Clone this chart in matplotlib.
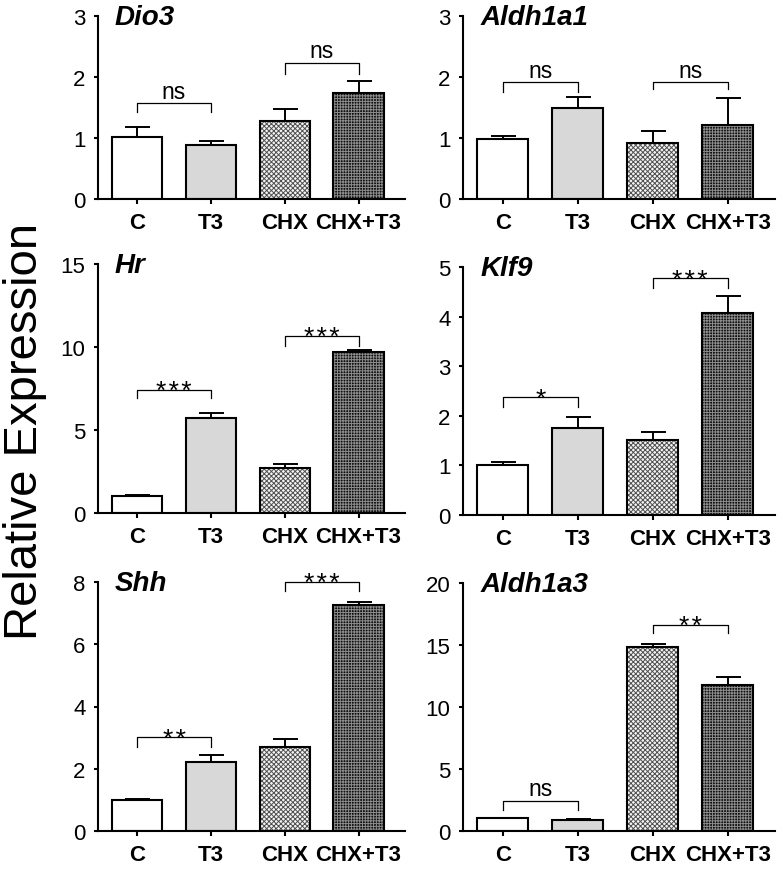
import numpy as np
import matplotlib as mpl
mpl.use('Agg')
import matplotlib.pyplot as plt

# ---- data ----
groups = ['C', 'T3', 'CHX', 'CHX+T3']

dio3_mean = [1.01, 0.89, 1.28, 1.74]
dio3_sem = [0.17, 0.055, 0.19, 0.19]
aldh1a1_mean = [0.99, 1.50, 0.91, 1.22]
aldh1a1_sem = [0.04, 0.18, 0.20, 0.44]
hr_mean = [1.04, 5.70, 2.73, 9.72]
hr_sem = [0.03, 0.34, 0.24, 0.07]
klf9_mean = [1.01, 1.75, 1.52, 4.07]
klf9_sem = [0.05, 0.23, 0.16, 0.34]
shh_mean = [1.01, 2.21, 2.69, 7.26]
shh_sem = [0.02, 0.22, 0.25, 0.10]
aldh1a3_mean = [1.05, 0.89, 14.8, 11.8]
aldh1a3_sem = [0.03, 0.06, 0.28, 0.64]

# significance brackets: (bar i, bar j, y of bracket, y of tick ends, label)
dio3_sig = [(0, 1, 1.57, 1.43, 'ns'), (2, 3, 2.23, 2.05, 'ns')]
aldh1a1_sig = [(0, 1, 1.91, 1.75, 'ns'), (2, 3, 1.91, 1.80, 'ns')]
hr_sig = [(0, 1, 7.41, 6.90, '***'), (2, 3, 10.68, 10.08, '***')]
klf9_sig = [(0, 1, 2.37, 2.17, '*'), (2, 3, 4.77, 4.57, '***')]
shh_sig = [(0, 1, 3.01, 2.69, '**'), (2, 3, 8.00, 7.71, '***')]
aldh1a3_sig = [(0, 1, 2.44, 1.69, 'ns'), (2, 3, 16.64, 15.97, '**')]

dio3_ticks = [0, 1, 2, 3]
aldh1a1_ticks = [0, 1, 2, 3]
hr_ticks = [0, 5, 10, 15]
klf9_ticks = [0, 1, 2, 3, 4, 5]
shh_ticks = [0, 2, 4, 6, 8]
aldh1a3_ticks = [0, 5, 10, 15, 20]

# ---- styling ----
plt.rcParams['font.family'] = ['Liberation Sans', 'DejaVu Sans']
plt.rcParams['hatch.linewidth'] = 0.7

W, H = 783., 870.
clr_t3 = '#d8d8d8'
# (face, hatch, hatch colour)
bar_sty = [('white', None, 'black'),
           (clr_t3, None, 'black'),
           ('#f4f4f4', 'xxxxxxx', '#505050'),
           ('#101010', '++++++', '#8c8c8c')]


def px_axes(fig, x0, y_top, x1, y_bot):
    return fig.add_axes([x0/W, 1. - y_bot/H, (x1 - x0)/W, (y_bot - y_top)/H])


def panel(ax, gene, vmean, vsem, ticks, sigs):
    xx = np.arange(len(groups))
    for k in range(len(groups)):
        fc, hat, hc = bar_sty[k]
        ax.bar(xx[k], vmean[k], width=0.68, color=fc, hatch=hat, edgecolor=hc, linewidth=0, zorder=2)
        ax.bar(xx[k], vmean[k], width=0.68, fill=False, edgecolor='black', linewidth=1.5, zorder=3)
    ax.errorbar(xx, vmean, yerr=[np.zeros(len(vsem)), vsem], fmt='none', ecolor='black',
                elinewidth=1.4, capsize=9, capthick=1.4, zorder=1)
    for (i, j, yt, yb, lab) in sigs:
        ax.plot([xx[i], xx[i], xx[j], xx[j]], [yb, yt, yt, yb], '-', color='black', lw=0.9, clip_on=False)
        if lab == 'ns':
            ax.annotate(lab, xy=((xx[i]+xx[j])/2., yt), xytext=(0, 4), textcoords='offset points',
                        ha='center', va='baseline', fontsize=16.5, annotation_clip=False)
        else:
            # asterisks drawn with a small gap between them
            ax.annotate('\u200a'.join(lab), xy=((xx[i]+xx[j])/2., yt), xytext=(0, -6),
                        textcoords='offset points', ha='center', va='baseline', fontsize=19,
                        annotation_clip=False)
    ax.set_xlim(-0.53, 3.63)
    ax.set_ylim(ticks[0], ticks[-1])
    ax.set_yticks(ticks)
    ax.set_xticks(xx)
    ax.set_xticklabels(groups, fontweight='bold')
    ax.spines['top'].set_visible(False)
    ax.spines['right'].set_visible(False)
    for s in ['left', 'bottom']:
        ax.spines[s].set_linewidth(1.5)
    ax.tick_params(axis='y', direction='out', length=3, width=1.5, pad=6, labelsize=16)
    ax.tick_params(axis='x', direction='out', length=3.5, width=1.5, pad=6, labelsize=16)
    ax.text(0.055, 0.995, gene, transform=ax.transAxes, ha='left', va='center',
            fontsize=20, fontweight='bold', fontstyle='italic')


fig = plt.figure(num=1, figsize=(W/100., H/100.), dpi=100, facecolor='w')

ax1 = px_axes(fig, 98, 17, 405, 200)
ax2 = px_axes(fig, 463, 17, 775, 200)
ax3 = px_axes(fig, 98, 265, 405, 514)
ax4 = px_axes(fig, 463, 268, 775, 516)
ax5 = px_axes(fig, 98, 583, 405, 832)
ax6 = px_axes(fig, 463, 584, 775, 832)

panel(ax1, 'Dio3', dio3_mean, dio3_sem, dio3_ticks, dio3_sig)
panel(ax2, 'Aldh1a1', aldh1a1_mean, aldh1a1_sem, aldh1a1_ticks, aldh1a1_sig)
panel(ax3, 'Hr', hr_mean, hr_sem, hr_ticks, hr_sig)
panel(ax4, 'Klf9', klf9_mean, klf9_sem, klf9_ticks, klf9_sig)
panel(ax5, 'Shh', shh_mean, shh_sem, shh_ticks, shh_sig)
panel(ax6, 'Aldh1a3', aldh1a3_mean, aldh1a3_sem, aldh1a3_ticks, aldh1a3_sig)

fig.text(25./W, 1. - 431./H, 'Relative Expression', rotation=90, ha='center', va='center', fontsize=34)

plt.savefig('out.png', dpi=100, facecolor='w')
plt.close(1)
